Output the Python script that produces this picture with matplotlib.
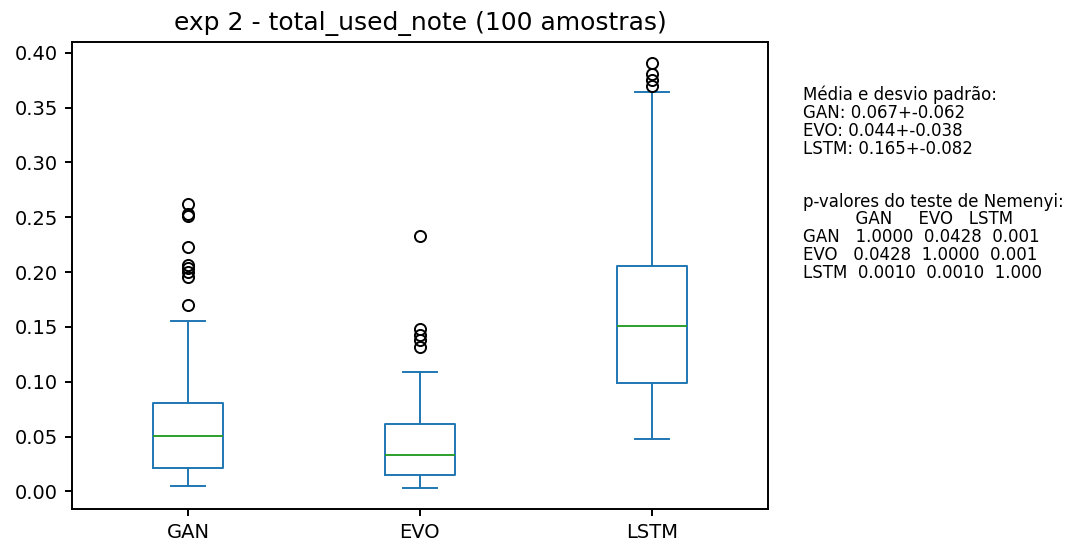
import matplotlib
matplotlib.use('Agg')
import matplotlib.pyplot as plt

# summary values (quartiles, whiskers, outliers)
labels = ['GAN', 'EVO', 'LSTM']
q1 = [0.0216, 0.0146, 0.0987]
medians = [0.0501, 0.0334, 0.1506]
q3 = [0.0805, 0.0610, 0.2053]
whisker_low = [0.0052, 0.0033, 0.0474]
whisker_high = [0.1552, 0.1093, 0.3638]
fliers = [
    [0.1695, 0.1953, 0.1998, 0.2035, 0.2060, 0.2226, 0.2515, 0.2530, 0.2620],
    [0.1315, 0.1376, 0.1430, 0.1482, 0.2333],
    [0.3699, 0.3751, 0.3806, 0.3903],
]

summary_text = ("Média e desvio padrão:\n"
                "GAN: 0.067+-0.062\n"
                "EVO: 0.044+-0.038\n"
                "LSTM: 0.165+-0.082\n"
                "\n\n"
                "p-valores do teste de Nemenyi:\n"
                "          GAN     EVO   LSTM\n"
                "GAN   1.0000  0.0428  0.001\n"
                "EVO   0.0428  1.0000  0.001\n"
                "LSTM  0.0010  0.0010  1.000")

stats = []
for i, name in enumerate(labels):
    stats.append({'label': name, 'q1': q1[i], 'med': medians[i], 'q3': q3[i],
                  'whislo': whisker_low[i], 'whishi': whisker_high[i],
                  'fliers': fliers[i]})

fig = plt.figure(figsize=(10.74, 5.47), dpi=100)
ax = fig.add_axes([0.067, 0.0695, 0.648, 0.8535])

blue = '#1f77b4'
lw = 1.4
ax.bxp(stats,
       boxprops=dict(color=blue, linewidth=lw),
       whiskerprops=dict(color=blue, linewidth=lw),
       capprops=dict(color=blue, linewidth=lw),
       medianprops=dict(color='#2ca02c', linewidth=lw),
       flierprops=dict(marker='o', markersize=8, markeredgewidth=lw,
                       markeredgecolor='black', markerfacecolor='none'))

for spine in ax.spines.values():
    spine.set_linewidth(lw)

ax.set_title('exp 2 - total_used_note (100 amostras)', fontsize=18, pad=9)
ax.tick_params(labelsize=14, length=5, width=lw, pad=5)

fig.text(0.748, 0.843, summary_text, fontsize=12, va='top', ha='left',
         linespacing=0.98)

plt.savefig('out.png', dpi=100)
